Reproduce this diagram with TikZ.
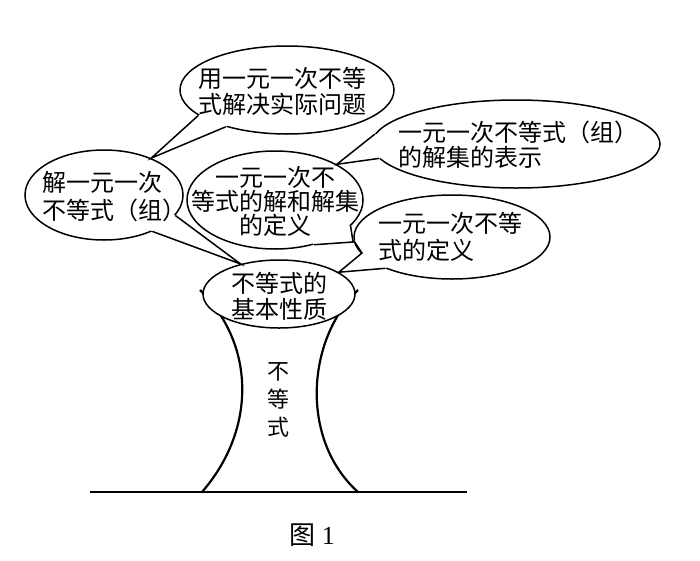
\documentclass[tikz,border=0pt]{standalone}
\usepackage{fontspec}
\setmainfont{Liberation Serif}
\newfontfamily\cjk{Noto Sans CJK SC}
\usetikzlibrary{shapes.geometric}
\begin{document}
\begin{tikzpicture}[x=1pt,y=-1pt,
  bub/.style={draw, fill=white, ellipse, line width=1.5pt, inner sep=0pt},
  tailln/.style={line width=1.5pt, line join=miter},
  lbl/.style={font=\cjk\fontsize{24}{26}\selectfont, inner sep=0pt, align=left},
  trk/.style={line width=2.2pt},
  gnd/.style={line width=1.6pt}]
\useasboundingbox (0,0) rectangle (700,560);
% ground and trunk
\coordinate (gl) at (90,492);
\coordinate (gr) at (467,492);
\coordinate (tlt) at (200,290);
\coordinate (tlb) at (202,492);
\coordinate (trt) at (358,290);
\coordinate (trb) at (358,492);
\draw[gnd] (gl) -- (gr);
\draw[trk] (tlt) .. controls (256,345) and (256,430) .. (tlb);
\draw[trk] (trt) .. controls (306,340) and (300,440) .. (trb);
% root bubble
\node[bub, minimum width=152pt, minimum height=68pt] (e6) at (279,294) {};
% E3
\node[bub, minimum width=158pt, minimum height=90pt] (e3) at (104,195) {};
\fill[white] (e3.344) -- (e6.142) -- (e3.323) -- (e3.center) -- cycle;
\draw[tailln] (e3.344) -- (e6.142) -- (e3.323);
% E4
\node[bub, minimum width=176pt, minimum height=98pt] (e4) at (275,200) {};
\coordinate (t4) at (353,242);
\fill[white] (e4.341) -- (t4) -- (e4.311) -- (e4.center) -- cycle;
\draw[tailln] (e4.341) -- (t4) -- (e4.311);
% E5
\node[bub, minimum width=196pt, minimum height=84pt] (e5) at (452,237) {};
\coordinate (j5) at (362,253);
\fill[white] (e5.182) -- (j5) -- (e6.20) -- (e5.205) -- (e5.center) -- cycle;
\draw[tailln] (e5.182) -- (j5) -- (e6.20) -- (e5.205);
% E1
\node[bub, minimum width=214pt, minimum height=88pt] (e1) at (287,90) {};
\fill[white] (e1.196) -- (e3.38) -- (e1.211) -- (e1.center) -- cycle;
\draw[tailln] (e1.196) -- (e3.38) -- (e1.211);
% E2
\node[bub, minimum width=288pt, minimum height=88pt] (e2) at (516,144) {};
\fill[white] (e2.176) -- (e4.30) -- (e2.186) -- (e2.center) -- cycle;
\draw[tailln] (e2.176) -- (e4.30) -- (e2.186);
% texts
\node[lbl] (x1) at (282,91) {用一元一次不等\\式解决实际问题};
\node[lbl, font=\cjk\fontsize{24}{25}\selectfont] (x2) at (518,145) {一元一次不等式（组）\\的解集的表示};
\node[lbl, font=\cjk\fontsize{24}{28}\selectfont] (x3) at (114,197) {解一元一次\\不等式（组）};
\node[lbl, align=center, font=\cjk\fontsize{24}{24}\selectfont] (x4) at (275,201) {一元一次不\\等式的解和解集\\的定义};
\node[lbl, font=\cjk\fontsize{24}{27}\selectfont] (x5) at (450,237) {一元一次不等\\式的定义};
\node[lbl, align=center] (x6) at (279,296) {不等式的\\基本性质};
\node[lbl, align=center, font=\cjk\fontsize{22}{28}\selectfont] (x7) at (278,400) {不\\等\\式};
\node[inner sep=0pt, font=\fontsize{26}{28}\selectfont] (cap) at (312,535) {{\cjk 图}\ 1};
\end{tikzpicture}
\end{document}
